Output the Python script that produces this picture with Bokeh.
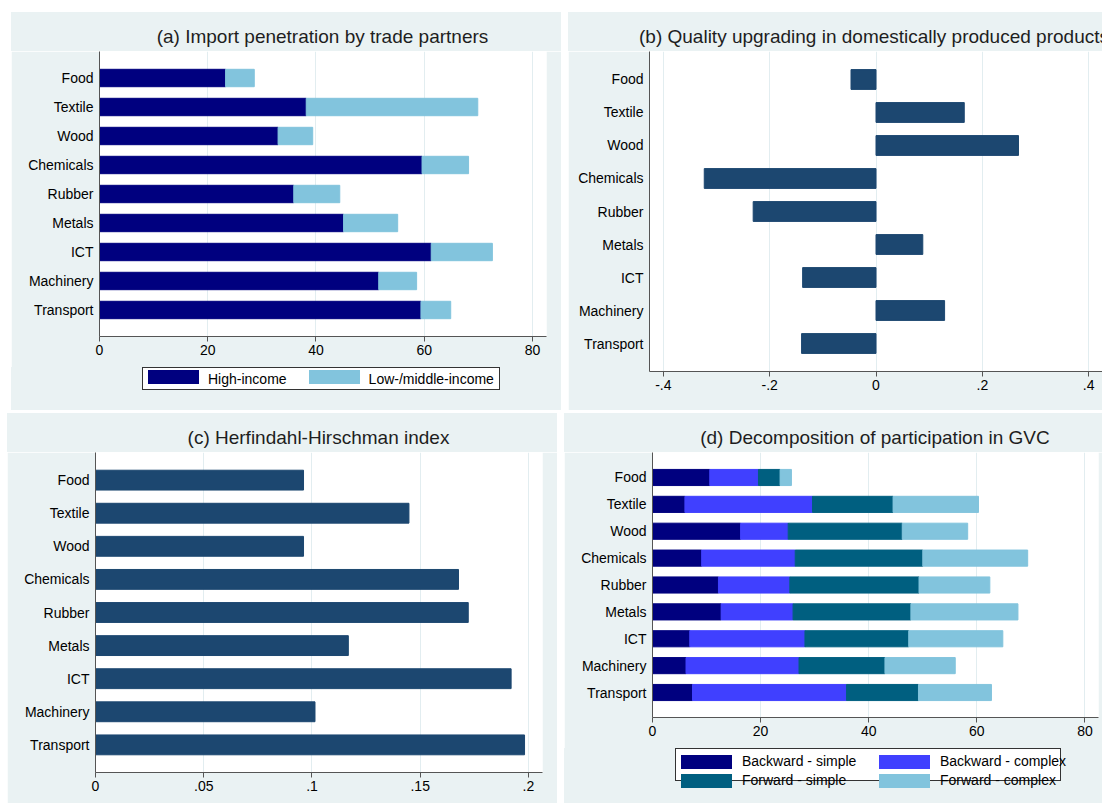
from bokeh.plotting import figure
from bokeh.models import FactorRange, Range1d, FixedTicker, Spacer, ColumnDataSource, Div
from bokeh.layouts import row, column
from bokeh.embed import file_html
from bokeh.resources import INLINE

# ---------------- data ----------------
categories = ["Food", "Textile", "Wood", "Chemicals", "Rubber", "Metals", "ICT", "Machinery", "Transport"]

# (a) import penetration by trade partners
import_high = [23.3, 38.2, 33.0, 59.6, 35.9, 45.1, 61.3, 51.6, 59.4]
import_low = [5.3, 31.7, 6.4, 8.6, 8.5, 10.0, 11.3, 7.0, 5.5]

# (b) quality upgrading in domestically produced products
quality = [-0.047, 0.166, 0.268, -0.323, -0.231, 0.088, -0.138, 0.129, -0.140]

# (c) Herfindahl-Hirschman index
hhi = [0.0961, 0.1448, 0.0961, 0.1677, 0.1722, 0.1168, 0.1920, 0.1014, 0.1982]

# (d) decomposition of participation in GVC
backward_simple = [10.6, 6.0, 16.3, 9.1, 12.2, 12.7, 6.9, 6.2, 7.4]
backward_complex = [9.0, 23.6, 8.8, 17.3, 13.2, 13.3, 21.3, 20.9, 28.5]
forward_simple = [4.0, 14.9, 21.1, 23.6, 23.9, 21.8, 19.2, 15.9, 13.3]
forward_complex = [2.1, 15.8, 12.1, 19.4, 13.1, 19.8, 17.4, 13.0, 13.5]

ticks_a = [0, 20, 40, 60, 80]
ticks_b = [-0.4, -0.2, 0, 0.2, 0.4]
labels_b = ["-.4", "-.2", "0", ".2", ".4"]
ticks_c = [0, 0.05, 0.1, 0.15, 0.2]
labels_c = ["0", ".05", ".1", ".15", ".2"]
ticks_d = [0, 20, 40, 60, 80]

legend_a = ["High-income", "Low-/middle-income"]
legend_d = ["Backward - simple", "Backward - complex", "Forward - simple", "Forward - complex"]

# ---------------- style ----------------
FONT = "Liberation Sans"
BG = "#eaf2f3"
AXIS = "#555555"
GRID = "#e2edf0"
NAVY = "#1c4770"
C_DARK = "#00007f"
C_LIGHT = "#82c4dd"
C_BLUE = "#4040ff"
C_TEAL = "#005f80"
colors_a = [C_DARK, C_LIGHT]
colors_d = [C_DARK, C_BLUE, C_TEAL, C_LIGHT]


def make_title(text, w, left, inner_w, align):
    html = ("<div style=\"margin-left:%dpx;width:%dpx;text-align:%s;padding-top:15px;"
            "line-height:20px;font-family:'Liberation Sans',Arial,sans-serif;font-size:19px;"
            "color:#1e1e1e;white-space:nowrap;\">%s</div>") % (left, inner_w, align, text)
    return Div(text=html, width=w, height=39, margin=0,
               styles={"background-color": BG, "overflow": "hidden"})


def swatch(color):
    return ("<span style=\"display:inline-block;width:51px;height:14px;background:%s;\"></span>"
            % color)


def legend_a_div(w, h):
    inner = ""
    for i, (lab, col) in enumerate(zip(legend_a, colors_a)):
        ml = 5 if i == 0 else 22
        inner += ("<span style=\"display:inline-block;margin-left:%dpx;\">%s</span>"
                  "<span style=\"margin-left:9px;line-height:14px;\">%s</span>") % (ml, swatch(col), lab)
    html = ("<div style=\"margin-left:131px;width:358px;height:23px;border:1px solid #333;"
            "background:white;display:flex;align-items:center;font-family:'Liberation Sans',Arial,sans-serif;"
            "font-size:14px;color:black;white-space:nowrap;\">%s</div>") % inner
    return Div(text=html, width=w, height=h, margin=0,
               styles={"background-color": BG, "overflow": "hidden"})


def legend_d_div(w, h):
    cells = ""
    for lab, col in zip(legend_d, colors_d):
        cells += ("<div style=\"height:14px;\">%s</div>"
                  "<div style=\"height:14px;line-height:14px;padding-left:10px;\">%s</div>") % (swatch(col), lab)
    html = ("<div style=\"margin-left:111px;width:386px;height:33px;border:1px solid #333;"
            "background:white;padding:5px 0 5px 5px;display:grid;"
            "grid-template-columns:51px 147px 51px auto;row-gap:5px;"
            "font-family:'Liberation Sans',Arial,sans-serif;font-size:14px;color:black;"
            "white-space:nowrap;\">%s</div>") % cells
    return Div(text=html, width=w, height=h, margin=0,
               styles={"background-color": BG, "overflow": "hidden"})


def make_fig(w, h, xr, pad, mb, ticks, overrides=None):
    p = figure(width=w, height=h,
               y_range=FactorRange(*list(reversed(categories))),
               x_range=Range1d(xr[0], xr[1]),
               output_backend="svg", toolbar_location=None,
               min_border_left=mb[0], min_border_right=mb[1],
               min_border_top=mb[2], min_border_bottom=mb[3])
    p.y_range.range_padding = 2 * pad / 9.0
    p.border_fill_color = BG
    p.background_fill_color = "white"
    p.outline_line_color = None
    p.ygrid.grid_line_color = None
    p.xgrid.grid_line_color = GRID
    p.xaxis.ticker = FixedTicker(ticks=ticks)
    if overrides:
        p.xaxis.major_label_overrides = overrides
    for ax in (p.xaxis, p.yaxis):
        ax.axis_line_color = AXIS
        ax.major_tick_line_color = AXIS
        ax.minor_tick_line_color = None
        ax.major_label_text_font = FONT
        ax.major_label_text_font_size = "14px"
        ax.major_label_text_color = "black"
    p.xaxis.major_tick_out = 5
    p.xaxis.major_tick_in = 0
    p.xaxis.major_label_standoff = 3
    p.yaxis.major_tick_out = 0
    p.yaxis.major_tick_in = 0
    p.yaxis.major_label_standoff = 6
    return p


# ---------------- (a) ----------------
src_a = ColumnDataSource(dict(cat=categories, high=import_high, low=import_low))
pa = make_fig(550, 316, (0, 82.6), 0.414, (88, 15, 0, 31), ticks_a)
pa.hbar_stack(["high", "low"], y="cat", height=0.6, color=colors_a, source=src_a)
ta = make_title("(a) Import penetration by trade partners", 550, 73, 477, "center")
la = legend_a_div(550, 43)

# ---------------- (b) ----------------
pb = make_fig(534, 359, (-0.426, 0.426), 0.348, (81, 0, 0, 39), ticks_b,
              dict(zip(ticks_b, labels_b)))
pb.hbar(y=categories, left=0, right=quality, height=0.6, color=NAVY)
tb = make_title("(b) Quality upgrading in domestically produced products", 534, 71, 520, "left")

# ---------------- (c) ----------------
pc = make_fig(550, 351, (0, 0.2065), 0.335, (88, 15, 0, 31), ticks_c,
              dict(zip(ticks_c, labels_c)))
pc.hbar(y=categories, left=0, right=hhi, height=0.6, color=NAVY)
tc = make_title("(c) Herfindahl-Hirschman index", 550, 73, 477, "center")

# ---------------- (d) ----------------
src_d = ColumnDataSource(dict(cat=categories, bs=backward_simple, bc=backward_complex,
                              fs=forward_simple, fc=forward_complex))
pd_ = make_fig(538, 296, (0, 82.5), 0.43, (88, 4, 0, 31), ticks_d)
pd_.hbar_stack(["bs", "bc", "fs", "fc"], y="cat", height=0.6, color=colors_d, source=src_d)
td = make_title("(d) Decomposition of participation in GVC", 538, 84, 454, "center")
ld = legend_d_div(538, 55)

layout = column(
    Spacer(width=1102, height=12),
    row(Spacer(width=11, height=398), column(ta, pa, la), Spacer(width=7, height=398), column(tb, pb)),
    Spacer(width=1102, height=3),
    row(Spacer(width=7, height=390), column(tc, pc), Spacer(width=7, height=390), column(td, pd_, ld)),
)

open("out.html", "w").write(file_html(layout, INLINE))
